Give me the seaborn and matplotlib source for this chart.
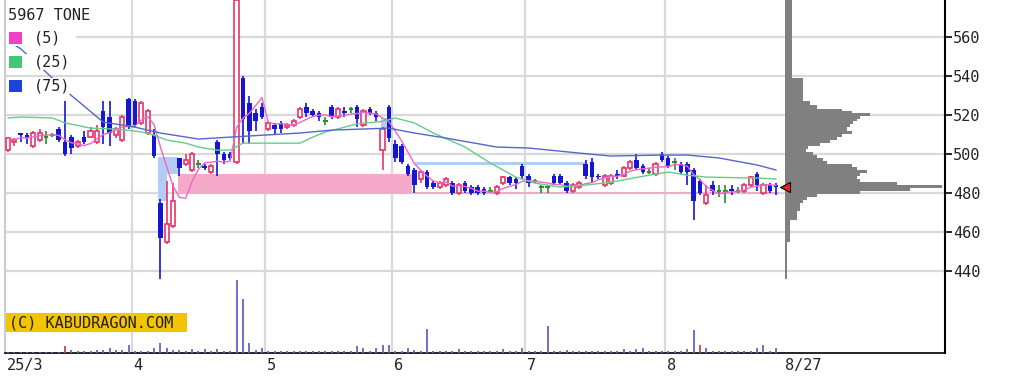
#################################################################
# loading python libraries
#################################################################

import numpy as np
import pandas as pd
import matplotlib.pyplot as plt
import seaborn as sns
from matplotlib.patches import Rectangle


###############################################################
# chart data (5967 TONE, daily, 25/3 .. 8/27)
###############################################################

opens = [502, 506, 511, 510, 504, 507, 509, 510, 513, 506,
         509, 504, 509, 509, 506, 522, 519, 510, 507, 528,
         527, 516, 511, 510, 475, 455, 463, 498, 495, 492,
         495, 494, 491, 506, 500, 500, 496, 539, 526, 521,
         524, 513, 515, 516, 514, 515, 519, 524, 522, 521,
         517, 524, 519, 522, 523, 524, 515, 523, 521, 502,
         524, 505, 504, 494, 492, 487, 491, 485, 483, 484,
         485, 480, 485, 483, 483, 482, 481, 480, 485, 488,
         487, 494, 489, 486, 483, 483, 489, 489, 485, 481,
         483, 495, 496, 489, 484, 485, 490, 489, 493, 497,
         494, 491, 490, 500, 498, 496, 495, 495, 492, 486,
         475, 484, 481, 481, 482, 481, 481, 484, 490, 480,
         484, 484]
highs = [509, 508, 511, 511, 512, 513, 512, 511, 514, 527,
         510, 507, 512, 514, 515, 527, 527, 514, 520, 529,
         528, 527, 523, 513, 477, 486, 485, 498, 500, 501,
         497, 495, 495, 507, 501, 501, 580, 540, 530, 523,
         526, 517, 516, 517, 516, 518, 524, 526, 523, 522,
         519, 525, 524, 524, 524, 525, 523, 524, 522, 514,
         525, 507, 505, 495, 493, 492, 492, 486, 486, 488,
         486, 485, 486, 484, 484, 483, 483, 484, 489, 489,
         488, 495, 490, 487, 484, 484, 490, 490, 486, 485,
         486, 497, 498, 490, 490, 490, 492, 494, 497, 500,
         495, 493, 496, 501, 499, 498, 496, 496, 493, 487,
         484, 486, 484, 484, 484, 483, 485, 489, 491, 485,
         485, 485]
lows = [501, 504, 506, 505, 503, 506, 505, 509, 506, 499,
        500, 503, 505, 508, 505, 505, 504, 508, 506, 513,
        514, 515, 510, 498, 436, 454, 462, 489, 494, 491,
        493, 492, 490, 489, 495, 497, 495, 505, 505, 512,
        518, 512, 510, 511, 513, 514, 518, 519, 519, 517,
        515, 518, 518, 519, 521, 514, 514, 520, 517, 492,
        506, 496, 495, 489, 480, 485, 482, 482, 482, 483,
        479, 479, 480, 479, 479, 479, 480, 479, 484, 484,
        482, 487, 483, 485, 480, 480, 484, 484, 480, 480,
        482, 487, 485, 487, 483, 484, 487, 488, 492, 492,
        490, 490, 489, 496, 493, 492, 490, 484, 466, 479,
        474, 479, 478, 475, 479, 480, 480, 483, 481, 479,
        480, 479]
closes = [508, 507, 510, 508, 511, 511, 509, 510, 507, 500,
          503, 506, 506, 512, 512, 514, 511, 513, 519, 514,
          515, 526, 522, 499, 457, 464, 476, 493, 497, 500,
          495, 493, 494, 500, 497, 498, 579, 518, 512, 517,
          519, 516, 513, 513, 515, 517, 523, 521, 520, 519,
          517, 519, 523, 521, 523, 518, 522, 521, 519, 513,
          508, 498, 496, 490, 484, 491, 483, 483, 485, 487,
          480, 484, 481, 480, 480, 480, 481, 483, 488, 485,
          485, 489, 485, 486, 483, 483, 485, 485, 481, 484,
          485, 489, 488, 488, 489, 489, 489, 493, 496, 493,
          491, 491, 495, 497, 494, 496, 491, 491, 476, 480,
          479, 481, 481, 481, 481, 481, 484, 488, 484, 484,
          481, 483]
volumes = [15, 15, 15, 15, 15, 15, 15, 15, 15, 70,
           30, 20, 20, 20, 30, 30, 50, 30, 30, 80,
           20, 20, 20, 50, 100, 50, 30, 30, 20, 40,
           20, 40, 20, 40, 20, 20, 730, 540, 100, 30,
           50, 20, 20, 20, 20, 20, 20, 20, 20, 20,
           20, 20, 20, 20, 20, 70, 50, 25, 50, 80,
           80, 20, 20, 50, 30, 20, 240, 20, 20, 20,
           20, 40, 20, 20, 20, 20, 20, 20, 40, 20,
           20, 50, 20, 20, 20, 270, 20, 20, 30, 20,
           20, 20, 20, 20, 20, 20, 20, 40, 20, 40,
           50, 20, 20, 20, 20, 20, 20, 40, 230, 80,
           50, 20, 20, 20, 20, 20, 20, 20, 50, 80,
           20, 50]
vol_red_days = [9, 109]

month_labels = ["25/3", "4", "5", "6", "7", "8"]
month_starts = [0, 20, 41, 61, 82, 104]
last_label = "8/27"

# moving averages (day, price)
ma25_day = [0, 2, 7, 9, 13, 17, 20, 22, 25, 28, 30, 33, 35, 37, 46, 48, 50, 53,
            55, 59, 61, 64, 67, 72, 76, 80, 83, 87, 91, 95, 101, 104, 107, 110, 118, 121]
ma25_val = [518.5, 519, 518.5, 516, 513.3, 512.8, 511.8, 510.8, 507.2, 505.6, 503.6,
            502, 502, 505.6, 505.6, 508.7, 511.3, 513.8, 515.5, 516.8, 518.5, 516,
            510.8, 503.6, 495.4, 488.2, 485.1, 483.1, 484.1, 485.6, 489.2, 490.8,
            489.2, 488.2, 487.7, 487.2]
ma75_day = [0, 2, 6, 10, 15, 20, 24, 30, 35, 46, 51, 60, 64, 69, 77, 82, 90, 95,
            103, 107, 112, 118, 121]
ma75_val = [558, 554, 542, 530, 516.4, 513.8, 510.8, 507.7, 508.7, 510.8, 512.3, 513.3,
            510.8, 508.2, 503.6, 503.1, 500.5, 499, 499.5, 499.5, 498, 494.4, 491.8]

# price zones (gaps / windows)
zone_x0 = [23.7, 23.7, 26.8, 58.7, 64.1, 64.1]
zone_x1 = [26.8, 25.0, 63.6, 60.5, 90.9, 121.5]
zone_lo = [489.7, 476.0, 479.5, 513.3, 494.4, 479.6]
zone_hi = [498.5, 489.7, 489.7, 518.5, 495.9, 480.5]
zone_kind = ["blue", "blue", "pink", "blue", "blue", "pink"]

# volume by price profile
prof_edges = [436, 455, 466, 471, 475, 476.5, 478, 479.5, 481, 482.5,
              484, 485.5, 487, 489, 490.5, 492, 493.5, 495, 496.5, 498,
              499.5, 501, 502.5, 504, 505.5, 507, 509, 510.5, 512, 514,
              515.5, 517, 518, 519.5, 521, 522, 523, 525, 527, 539, 579]
prof_vol = [2, 5, 12, 15, 18, 22, 32, 75, 125, 157,
            112, 75, 72, 75, 82, 72, 67, 42, 38, 32,
            28, 21, 23, 35, 45, 52, 57, 67, 62, 65,
            68, 72, 75, 85, 67, 57, 32, 25, 18, 7]

price_ticks = [440, 460, 480, 500, 520, 540, 560]


###############################################################
# styles
###############################################################

sns.set_theme(style="white")
plt.rcParams['font.family'] = ['DejaVu Sans Mono']

RED = '#e6336a'
BLUE = '#1515d5'
GREEN = '#2a8f2a'

df = pd.DataFrame({"open": opens, "high": highs, "low": lows,
                   "close": closes, "volume": volumes})
df["day"] = np.arange(len(df))
df["ma5"] = df["close"].rolling(5, min_periods=1).mean()
df["color"] = np.where(df.close > df.open, RED, np.where(df.close < df.open, BLUE, GREEN))

n = len(df)
prof_base = n + 0.4

fig = plt.figure(figsize=(10.16, 3.88), dpi=100)
ax = fig.add_axes([5 / 1016, 35 / 388, 940 / 1016, 353 / 388])
axv = fig.add_axes([5 / 1016, 35 / 388, 940 / 1016, 353 / 388], sharex=ax)
axv.patch.set_visible(False)
axv.axis('off')

ax.set_xlim(-0.47, 147.6)
ax.set_ylim(398, 579)


###############################################################
# grid
###############################################################

ax.set_yticks(price_ticks)
ax.grid(True, axis='y', color='#d9d9d9', lw=1.6, zorder=0)
ax.set_xticks([])
for m in month_starts:
    ax.axvline(m - 0.5, color='#d9d9d9', lw=1.6, zorder=0)


###############################################################
# zones, candles, moving averages
###############################################################

for x0, x1, lo, hi, kind in zip(zone_x0, zone_x1, zone_lo, zone_hi, zone_kind):
    c = '#b3cdf2' if kind == "blue" else '#f5a9c9'
    ax.add_patch(Rectangle((x0, lo), x1 - x0, hi - lo, facecolor=c,
                           edgecolor='none', zorder=1))

ax.vlines(df.day, df.low, df.high, colors=df.color, lw=1.2, zorder=3)

up = df[df.close > df.open]
down = df[df.close < df.open]
flat = df[df.close == df.open]
ax.bar(up.day, up.close - up.open, bottom=up.open, width=0.66,
       facecolor='white', edgecolor=RED, lw=1.2, zorder=4)
ax.bar(down.day, down.open - down.close, bottom=down.close, width=0.72,
       color=BLUE, lw=0, zorder=4)
ax.hlines(flat.close, flat.day - 0.36, flat.day + 0.36, colors=GREEN, lw=1.5, zorder=4)

sns.lineplot(x=df.day, y=df.ma5, ax=ax, color='#ee66cc', lw=1, zorder=5)
sns.lineplot(x=ma25_day, y=ma25_val, ax=ax, color='#66cc88', lw=1, zorder=5)
sns.lineplot(x=ma75_day, y=ma75_val, ax=ax, color='#5566cc', lw=1, zorder=5)


###############################################################
# volume profile and last price marker
###############################################################

prof_scale = 24.7 / max(prof_vol)
ax.barh(prof_edges[:-1], np.array(prof_vol) * prof_scale, height=np.diff(prof_edges),
        left=prof_base, align='edge', color='#808080', lw=0, zorder=3)
ax.plot(prof_base, closes[-1], marker='<', ms=7, mfc='#ee2020', mec='black',
        mew=0.8, zorder=6, clip_on=False)


###############################################################
# volume
###############################################################

vcol = ['#c04848' if d in vol_red_days else '#6464c4' for d in df.day]
axv.vlines(df.day, 0, df.volume, colors=vcol, lw=1.3)
axv.set_ylim(0, 730 * 353 / 73)


###############################################################
# axes, labels
###############################################################

for s in ['top']:
    ax.spines[s].set_visible(False)
ax.spines['left'].set_color('#cccccc')
ax.spines['left'].set_linewidth(1.5)
ax.spines['right'].set_color('black')
ax.spines['right'].set_linewidth(1.5)
ax.spines['bottom'].set_color('black')
ax.spines['bottom'].set_linewidth(1.2)

ax.yaxis.tick_right()
ax.tick_params(axis='y', right=True, left=False, labelright=True, labelleft=False,
               length=5, width=1.2, color='black', labelsize=11, pad=1,
               labelcolor='#222222')
ax.set_xlabel("")
ax.set_ylabel("")

trans = ax.get_xaxis_transform()
for lab, m in zip(month_labels, month_starts):
    ax.text(m - 0.2, -0.034, lab, transform=trans, ha='left', va='center',
            fontsize=11, color='#222222')
ax.text(prof_base, -0.034, last_label, transform=trans, ha='left', va='center',
        fontsize=11, color='#222222')

# legend block top-left (figure pixel coordinates)
def fx(px):
    return px / 1016


def fy(py):
    return 1 - py / 388


fig.text(fx(8), fy(15), "5967 TONE", ha='left', va='center', fontsize=11, color='#222222')
legend_rows = [("(5)", '#f040c8', 38), ("(25)", '#40c878', 62), ("(75)", '#2040e0', 86)]
for lab, col, yc in legend_rows:
    fig.add_artist(Rectangle((fx(6), fy(yc + 8)), 70 / 1016, 16 / 388,
                             transform=fig.transFigure, facecolor='white',
                             edgecolor='none', zorder=2))
    fig.add_artist(Rectangle((fx(9), fy(yc + 6)), 13 / 1016, 12 / 388,
                             transform=fig.transFigure, facecolor=col,
                             edgecolor='none', zorder=3))
    fig.text(fx(34), fy(yc), lab, ha='left', va='center', fontsize=11,
             color='#222222', zorder=4)

fig.add_artist(Rectangle((fx(6), fy(332)), 181 / 1016, 19 / 388,
                         transform=fig.transFigure, facecolor='#f5c400',
                         edgecolor='none', zorder=2))
fig.text(fx(9), fy(323), "(C) KABUDRAGON.COM", ha='left', va='center',
         fontsize=11, color='#222222', zorder=4)

plt.savefig("out.png", dpi=100)
plt.close()
